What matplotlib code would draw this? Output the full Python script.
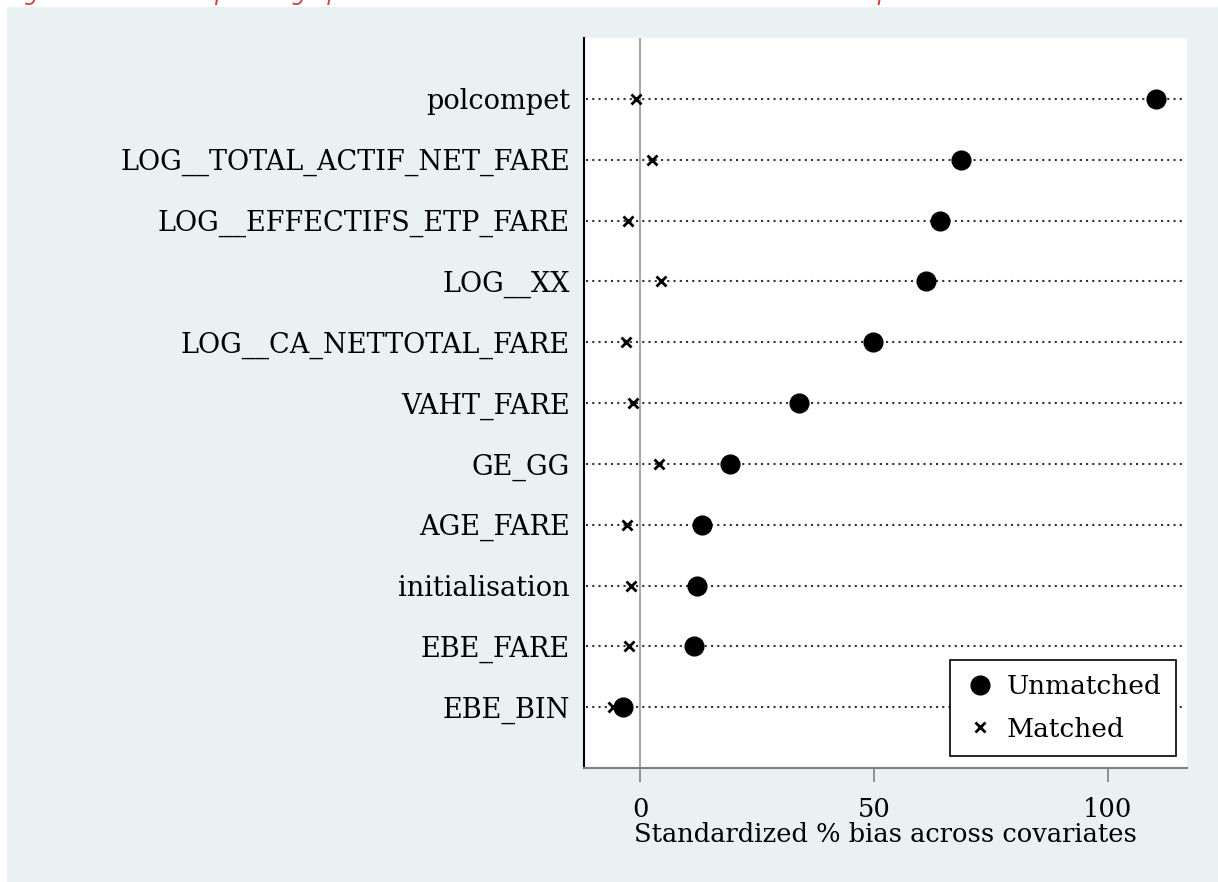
import matplotlib.pyplot as plt
from matplotlib.patches import Rectangle

covariates = ["polcompet", "LOG__TOTAL_ACTIF_NET_FARE", "LOG__EFFECTIFS_ETP_FARE",
              "LOG__XX", "LOG__CA_NETTOTAL_FARE", "VAHT_FARE", "GE_GG",
              "AGE_FARE", "initialisation", "EBE_FARE", "EBE_BIN"]
unmatched = [110.3, 68.6, 64.1, 61.1, 49.8, 34.0, 19.2, 13.2, 12.2, 11.5, -3.6]
matched = [-0.9, 2.6, -2.6, 4.5, -3.0, -1.5, 4.1, -2.8, -1.9, -2.4, -5.9]
xticks = [0, 50, 100]

bg = "#e9f1f3"
plt.rcParams["font.family"] = ["DejaVu Serif"]

fig = plt.figure(figsize=(12.18, 8.82), dpi=100)
fig.patch.set_facecolor("white")
fig.patches.append(Rectangle((7 / 1218, 0), 1, 1 - 7 / 882, transform=fig.transFigure,
                             facecolor=bg, edgecolor="none", zorder=-10))
fig.text(0.004, 1.0085, "Figure 43 Test d'équilibrage pour les indicateurs financiers et socio-économiques",
         color="#d84040", fontsize=16.3, style="italic", family="DejaVu Sans",
         va="center", ha="left")

ax = fig.add_axes([584 / 1218, 1 - 768 / 882, (1187 - 584) / 1218, (768 - 38) / 882])
ax.set_facecolor("white")

n = len(covariates)
ypos = list(range(n, 0, -1))

for y in ypos:
    ax.plot([-11.5, 115.8], [y, y], color="#333333", lw=1.5, ls=(0, (1, 2)), zorder=1)
ax.axvline(0, color="#a8a8a8", lw=1.5, zorder=1)

ax.plot(unmatched, ypos, "o", color="black", ms=13.5, ls="none", label="Unmatched", zorder=3)
ax.plot(matched, ypos, "x", color="black", ms=7, mew=2, ls="none", label="Matched", zorder=3)

ax.set_xlim(-12, 116.9)
ax.set_ylim(0, n + 1)
ax.set_yticks(ypos)
ax.set_yticklabels(covariates, fontsize=19.5)
ax.tick_params(axis="y", length=0, pad=10)
ax.set_xticks(xticks)
ax.set_xticklabels([str(t) for t in xticks], fontsize=18.5)
ax.tick_params(axis="x", length=10, width=1.2, color="#808080", pad=11)
ax.set_xlabel("Standardized % bias across covariates", fontsize=18.5, labelpad=0)

for s in ["top", "right"]:
    ax.spines[s].set_visible(False)
ax.spines["left"].set_color("black")
ax.spines["left"].set_linewidth(1.5)
ax.spines["bottom"].set_color("#808080")
ax.spines["bottom"].set_linewidth(1.5)

leg = ax.legend(loc="lower right", bbox_to_anchor=(0.982, 0.0164), borderaxespad=0,
                fontsize=19, frameon=True, fancybox=False, edgecolor="black",
                framealpha=1, handletextpad=0.4, handlelength=1.2,
                borderpad=0.55, labelspacing=0.65)
leg.get_frame().set_linewidth(1.2)

fig.savefig("out.png", dpi=100, facecolor=fig.get_facecolor())
